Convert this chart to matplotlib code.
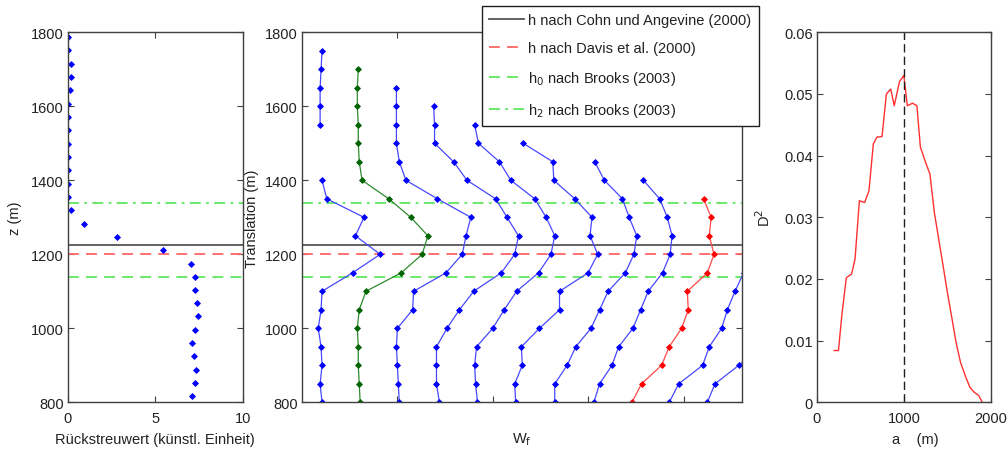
import numpy as np
import matplotlib
matplotlib.use("Agg")
import matplotlib.pyplot as plt

plt.rcParams['font.family'] = ['Liberation Sans', 'DejaVu Sans']
plt.rcParams['font.size'] = 10.5
plt.rcParams['text.color'] = '#222222'
plt.rcParams['axes.labelcolor'] = '#222222'
plt.rcParams['xtick.color'] = '#222222'
plt.rcParams['ytick.color'] = '#222222'

nan = np.nan

# --- left panel: backscatter profile ---
z_back = [816, 852, 888, 924, 960, 996, 1032, 1068, 1104, 1140, 1175, 1211, 1247, 1283,
          1319, 1355, 1391, 1427, 1463, 1499, 1535, 1571, 1607, 1643, 1679, 1715, 1751, 1787]
backscatter = [7.09, 7.28, 7.33, 7.22, 7.09, 7.28, 7.47, 7.41, 7.28, 7.28, 7.05, 5.47, 2.80, 0.93,
               0.17, 0.0, 0.0, 0.0, 0.0, 0.0, 0.04, 0.04, 0.04, 0.13, 0.17, 0.17, 0.04, 0.04]

# boundary layer heights (m)
h_cohn = 1225
h_davis = 1200
h0_brooks = 1140
h2_brooks = 1340

# --- middle panel: wavelet coefficients W_f, one profile per dilation ---
translation = np.arange(800, 1800, 50)
wf_profiles = [
    [0.21, 0.19, 0.21, 0.20, 0.17, 0.20, 0.21, 0.53, 0.82, 0.56, 0.65, 0.26, 0.21, nan, nan,
     0.19, 0.19, 0.19, 0.20, 0.21],
    [0.61, 0.60, 0.59, 0.59, 0.58, 0.60, 0.67, 1.04, 1.26, 1.32, 1.14, 0.91, 0.63, 0.60, 0.59,
     0.59, 0.58, 0.58, 0.59, nan],
    [1.02, 1.01, 1.00, 0.99, 1.00, 1.16, 1.17, 1.51, 1.68, 1.72, 1.77, 1.42, 1.09, 1.02, 0.99,
     0.99, 0.99, 0.99, nan, nan],
    [1.44, 1.41, 1.41, 1.41, 1.52, 1.65, 1.80, 2.09, 2.23, 2.27, 2.15, 2.03, 1.73, 1.59, 1.39,
     1.39, 1.38, nan, nan, nan],
    [1.84, 1.82, 1.81, 1.83, 2.00, 2.12, 2.25, 2.48, 2.61, 2.65, 2.56, 2.44, 2.19, 2.07, 1.85,
     1.81, nan, nan, nan, nan],
    [2.24, 2.23, 2.31, 2.30, 2.49, 2.70, 2.70, 3.00, 3.10, 3.02, 3.04, 2.86, 2.64, 2.63, 2.32,
     nan, nan, nan, nan, nan],
    [2.65, 2.65, 2.78, 2.87, 3.03, 3.12, 3.21, 3.39, 3.48, 3.51, 3.43, 3.36, 3.17, 3.07, nan,
     nan, nan, nan, nan, nan],
    [3.06, 3.12, 3.25, 3.32, 3.47, 3.55, 3.63, 3.78, 3.86, 3.88, 3.83, 3.75, 3.58, nan, nan,
     nan, nan, nan, nan, nan],
    [3.46, 3.56, 3.77, 3.85, 3.98, 4.05, 4.04, 4.25, 4.32, 4.27, 4.29, 4.21, nan, nan, nan,
     nan, nan, nan, nan, nan],
    [3.85, 3.95, 4.20, 4.27, 4.40, 4.46, 4.54, 4.63, 4.72, nan, nan, nan, nan, nan, nan,
     nan, nan, nan, nan, nan],
    [4.25, 4.33, 4.58, 4.80, nan, nan, nan, nan, nan, nan, nan, nan, nan, nan, nan,
     nan, nan, nan, nan, nan],
]
profile_colors = ['blue', 'green', 'blue', 'blue', 'blue', 'blue', 'blue', 'blue', 'red',
                  'blue', 'blue']
line_colors = {'blue': '#4848ff', 'green': '#2e8b2e', 'red': '#ff4848'}
marker_colors = {'blue': '#0000ff', 'green': '#006400', 'red': '#ff0000'}

# --- right panel: variance D^2 over dilation a ---
dilation = [200, 250, 290, 340, 400, 440, 490, 550, 600, 650, 690, 750, 800, 850, 890, 950,
            1000, 1040, 1100, 1150, 1190, 1250, 1300, 1350, 1400, 1450, 1500, 1540, 1600,
            1650, 1710, 1760, 1810, 1860, 1900]
d2 = [0.0084, 0.0084, 0.0143, 0.0202, 0.0208, 0.0232, 0.0327, 0.0324, 0.0343, 0.0419,
      0.0430, 0.0431, 0.0500, 0.0508, 0.0481, 0.0520, 0.0530, 0.0481, 0.0485, 0.0481,
      0.0414, 0.0389, 0.0370, 0.0308, 0.0265, 0.0222, 0.0178, 0.0146, 0.0097, 0.0065,
      0.0041, 0.0024, 0.0016, 0.0011, 0.0]
a_best = 1000

LINE_BLACK = '#555555'
LINE_RED = '#ff6464'
LINE_GREEN = '#5ee85e'
MARKER = dict(marker='D', ms=3.0, mew=0.6)


def style_axes(ax):
    for sp in ax.spines.values():
        sp.set_color('#404040')
        sp.set_linewidth(1.0)
    ax.tick_params(direction='in', top=True, right=True, length=4, width=0.8,
                   colors='#404040', labelcolor='#222222')
    ax.tick_params(axis='x', pad=6)
    ax.tick_params(axis='y', pad=3)


def height_lines(ax):
    ax.axhline(h_cohn, color=LINE_BLACK, lw=1.3, label='h nach Cohn und Angevine (2000)')
    ax.axhline(h_davis, color=LINE_RED, lw=1.3, dashes=(6, 4),
               label='h nach Davis et al. (2000)')
    ax.axhline(h0_brooks, color=LINE_GREEN, lw=1.3, dashes=(6, 4),
               label='h$_0$ nach Brooks (2003)')
    ax.axhline(h2_brooks, color=LINE_GREEN, lw=1.3, dashes=(6, 3, 1.5, 3),
               label='h$_2$ nach Brooks (2003)')


fig = plt.figure(figsize=(10.08, 4.52), dpi=100)
bottom, height = 0.1077, 0.8186
ax1 = fig.add_axes([0.0672, bottom, 0.1736, height])
ax2 = fig.add_axes([0.2996, bottom, 0.4362, height])
ax3 = fig.add_axes([0.8102, bottom, 0.1729, height])

# left: backscatter
height_lines(ax1)
ax1.plot(backscatter, z_back, linestyle='none', color='#0000ff', **MARKER)
ax1.set_xlim(0, 10)
ax1.set_ylim(800, 1800)
ax1.set_xticks([0, 5, 10])
ax1.set_yticks(np.arange(800, 1801, 200))
ax1.set_xlabel('Rückstreuwert (künstl. Einheit)', labelpad=5)
ax1.set_ylabel('z (m)', labelpad=6)
style_axes(ax1)

# middle: wavelet profiles
height_lines(ax2)
for vals, c in zip(wf_profiles, profile_colors):
    ax2.plot(vals, translation, color=line_colors[c], lw=0.9,
             mfc=marker_colors[c], mec=marker_colors[c], **MARKER)
ax2.set_xlim(0, 4.61)
ax2.set_ylim(800, 1800)
ax2.set_xticks([1, 2, 3, 4])
ax2.set_xticklabels([])
ax2.set_yticks(np.arange(800, 1801, 200))
ax2.set_xlabel('W$_\\mathrm{f}$', labelpad=14)
ax2.set_ylabel('Translation (m)', labelpad=4)
style_axes(ax2)

handles, labels = ax2.get_legend_handles_labels()
leg = ax2.legend(handles, labels, loc='upper left', bbox_to_anchor=(0.478, 0.985),
                 bbox_transform=fig.transFigure, frameon=True, fancybox=False,
                 framealpha=1, edgecolor='#202020', handlelength=2.4, handletextpad=0.3,
                 borderpad=0.5, labelspacing=0.95, fontsize=10.5, borderaxespad=0)
leg.get_frame().set_linewidth(1.0)
leg.set_zorder(10)

# right: D^2 vs dilation
ax3.plot(dilation, d2, color='#ff3030', lw=1.0)
ax3.axvline(a_best, color='#202020', lw=1.0, dashes=(6, 3))
ax3.set_xlim(0, 2000)
ax3.set_ylim(0, 0.06)
ax3.set_xticks([0, 1000, 2000])
ax3.set_yticks([0, 0.01, 0.02, 0.03, 0.04, 0.05, 0.06])
ax3.set_yticklabels(['0', '0.01', '0.02', '0.03', '0.04', '0.05', '0.06'])
ax3.set_xlabel('a    (m)', labelpad=5)
ax3.xaxis.label.set_x(0.565)
ax3.set_ylabel('D$^2$', labelpad=8)
style_axes(ax3)

fig.savefig('out.png', dpi=100)
